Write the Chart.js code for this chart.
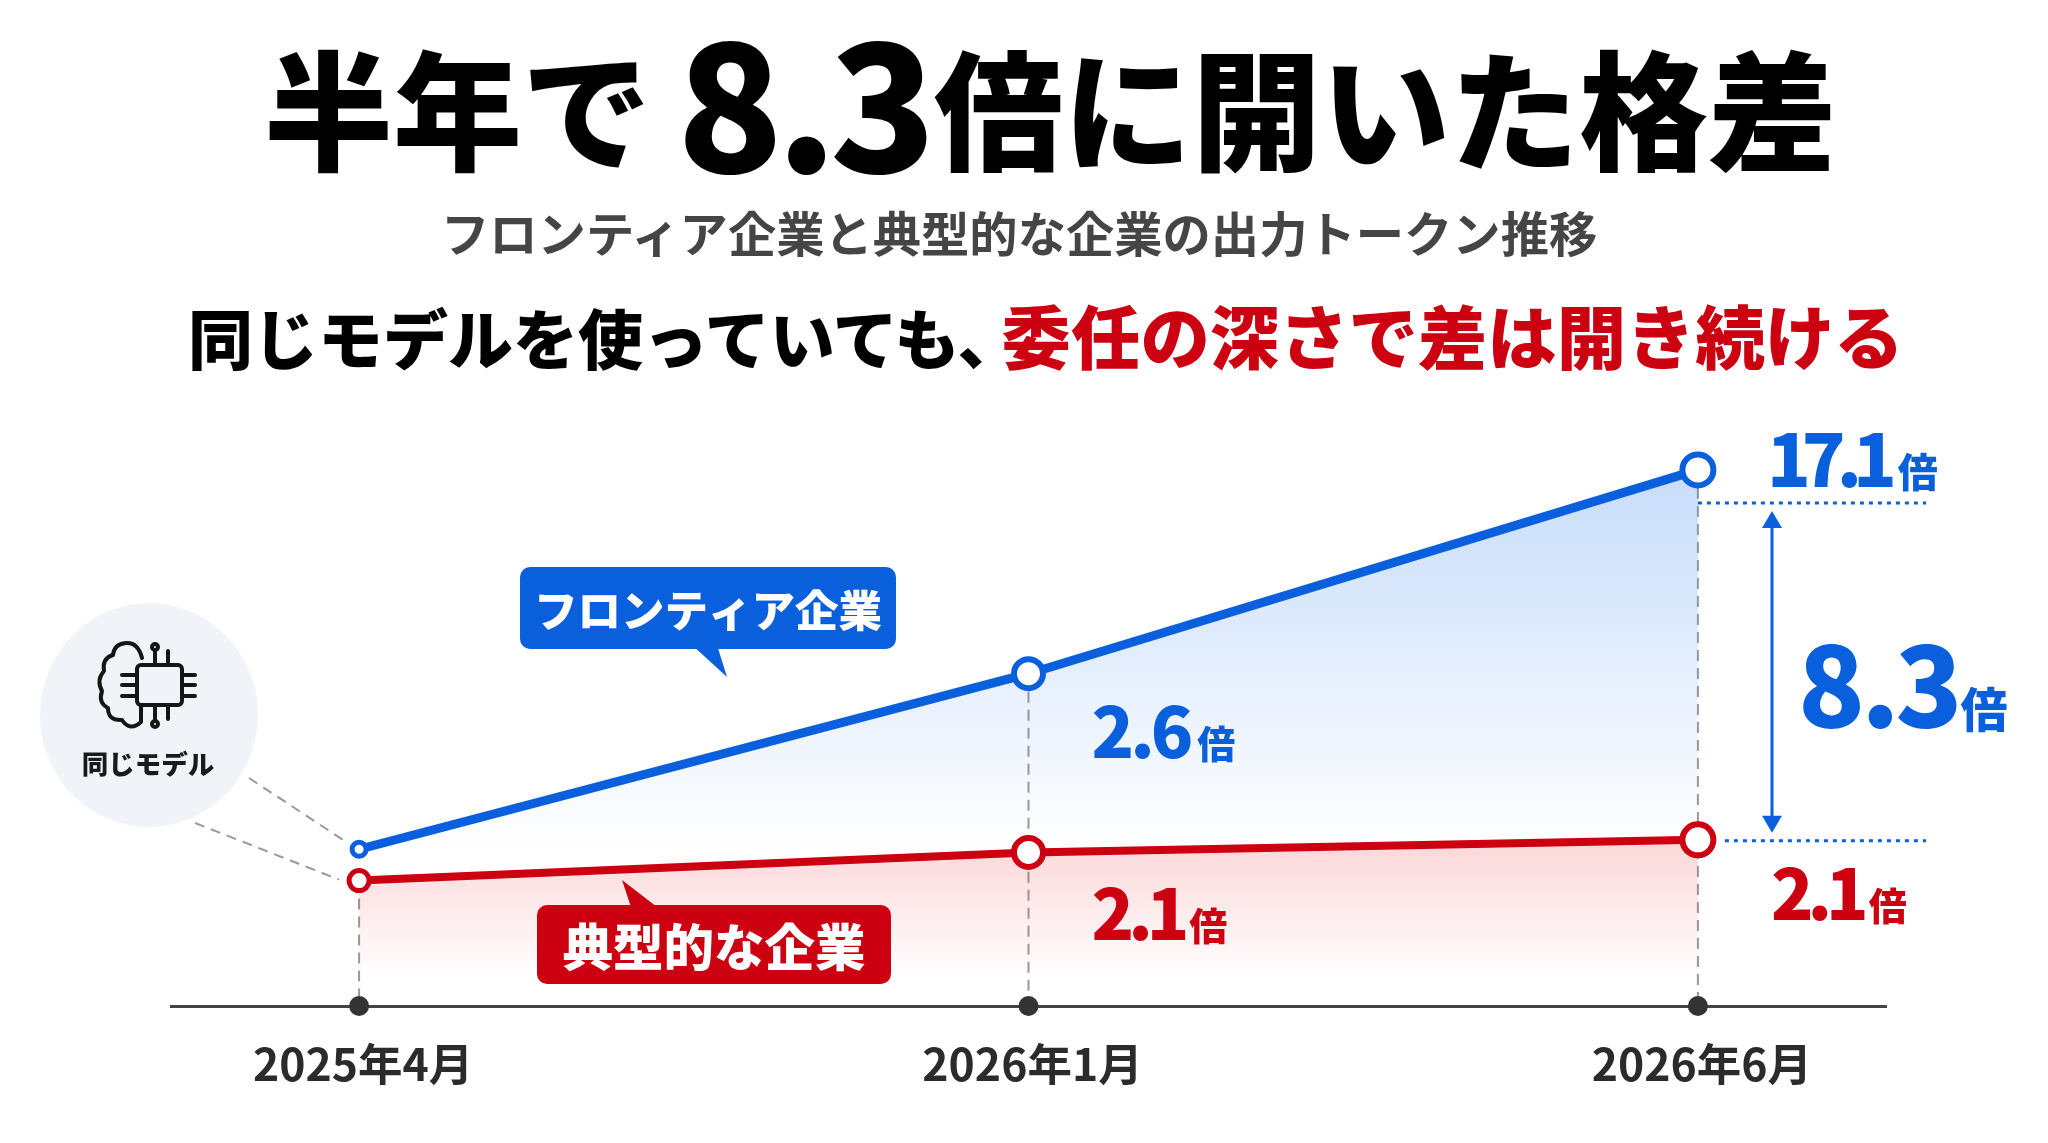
<!DOCTYPE html>
<html lang="ja">
<head>
<meta charset="utf-8">
<title>半年で8.3倍に開いた格差</title>
<script src="https://cdn.jsdelivr.net/npm/chart.js@4/dist/chart.umd.min.js"></script>
<style>
  html, body { margin: 0; padding: 0; background: #fff; }
  body { width: 2048px; height: 1143px; position: relative; overflow: hidden; font-family: "Noto Sans CJK JP", "Noto Sans", sans-serif; }
  canvas { position: absolute; left: 0; top: 0; }
  .head { position: absolute; white-space: nowrap; line-height: 1; }
  #title { left: 264px; top: 40px; font-size: 129px; font-weight: 900; color: #000; }
  #title b { position: relative; top: 12px; font-size: 174px; line-height: 0; font-weight: 900; margin: 0 5px 0 26px; letter-spacing: -7px; }
  #subtitle { left: 441px; top: 207px; font-size: 48.3px; font-weight: 700; color: #454545; }
  #lead { left: 188px; top: 298px; font-size: 65px; line-height: 72px; font-weight: 900; color: #000; }
  #lead span { color: #cc0011; font-size: 69.4px; margin-left: -21px; }
</style>
</head>
<body>
<div class="head" id="title">半年で<b>8.3</b>倍に開いた格差</div>
<div class="head" id="subtitle">フロンティア企業と典型的な企業の出力トークン推移</div>
<div class="head" id="lead">同じモデルを使っていても、<span>委任の深さで差は開き続ける</span></div>
<canvas id="gapChart" width="2048" height="1143"></canvas>
<script>
const months = ['2025年4月', '2026年1月', '2026年6月'];

// heights of the lines as drawn in the picture (the drawing is not to scale with its labels)
const frontierValues = [5.0, 10.6, 17.1];
const typicalValues = [4.0, 4.9, 5.3];
const axisValues = [0, 0, 0];

const frontierLabels = ['', '2.6', '17.1'];
const typicalLabels = ['', '2.1', '2.1'];
const gapLabel = '8.3';
const unit = '倍';

const BLUE = '#0a5fdc';
const RED = '#cc0011';
const FONT = '"Noto Sans CJK JP", "Noto Sans", sans-serif';

const toPoints = (values) => values.map((v, i) => ({ x: i, y: v }));

function frontierFill(context) {
  const { chart } = context;
  if (!chart.chartArea) return 'transparent';
  const y = chart.scales.y;
  const g = chart.ctx.createLinearGradient(0, y.getPixelForValue(17.1), 0, y.getPixelForValue(5));
  g.addColorStop(0, 'rgba(70,140,240,0.30)');
  g.addColorStop(1, 'rgba(70,140,240,0.0)');
  return g;
}

function typicalFill(context) {
  const { chart } = context;
  if (!chart.chartArea) return 'transparent';
  const y = chart.scales.y;
  const g = chart.ctx.createLinearGradient(0, y.getPixelForValue(5.3), 0, y.getPixelForValue(0.9));
  g.addColorStop(0, 'rgba(240,50,60,0.20)');
  g.addColorStop(1, 'rgba(240,50,60,0.0)');
  return g;
}

function dashed(ctx, x1, y1, x2, y2, color, width, dash) {
  ctx.save();
  ctx.strokeStyle = color;
  ctx.lineWidth = width;
  ctx.setLineDash(dash);
  ctx.beginPath();
  ctx.moveTo(x1, y1);
  ctx.lineTo(x2, y2);
  ctx.stroke();
  ctx.restore();
}

function bubble(ctx, x, y, w, h, tail, color, text, size) {
  ctx.save();
  ctx.fillStyle = color;
  ctx.beginPath();
  ctx.roundRect(x, y, w, h, 10);
  ctx.fill();
  ctx.beginPath();
  ctx.moveTo(tail[0], tail[1]);
  ctx.lineTo(tail[2], tail[3]);
  ctx.lineTo(tail[4], tail[5]);
  ctx.closePath();
  ctx.fill();
  ctx.fillStyle = '#fff';
  ctx.font = `900 ${size}px ${FONT}`;
  ctx.textAlign = 'center';
  ctx.textBaseline = 'middle';
  ctx.fillText(text, x + w / 2, y + h / 2 + 2);
  ctx.restore();
}

function multiple(ctx, text, x, baseline, size, unitSize, color, spacing, gap) {
  ctx.save();
  ctx.fillStyle = color;
  ctx.textBaseline = 'alphabetic';
  ctx.textAlign = 'left';
  ctx.font = `900 ${size}px ${FONT}`;
  ctx.letterSpacing = `${spacing}px`;
  ctx.fillText(text, x, baseline);
  const w = ctx.measureText(text).width;
  ctx.letterSpacing = '0px';
  ctx.font = `900 ${unitSize}px ${FONT}`;
  ctx.fillText(unit, x + w + gap, baseline);
  ctx.restore();
}

function modelBadge(ctx) {
  ctx.save();
  ctx.fillStyle = '#f0f3f8';
  ctx.beginPath();
  ctx.ellipse(149, 715, 109, 112, 0, 0, Math.PI * 2);
  ctx.fill();

  // brain outline
  ctx.strokeStyle = '#151515';
  ctx.lineWidth = 4;
  ctx.lineCap = 'round';
  ctx.lineJoin = 'round';
  ctx.beginPath();
  ctx.moveTo(142, 658);
  ctx.quadraticCurveTo(138, 642, 126, 643);
  ctx.quadraticCurveTo(114, 644, 113, 655);
  ctx.quadraticCurveTo(102, 658, 104, 671);
  ctx.quadraticCurveTo(96, 680, 102, 691);
  ctx.quadraticCurveTo(98, 703, 108, 708);
  ctx.quadraticCurveTo(108, 721, 122, 720);
  ctx.quadraticCurveTo(130, 732, 141, 722);
  ctx.lineTo(141, 706);
  ctx.stroke();

  // chip
  ctx.beginPath();
  ctx.roundRect(137, 665, 45, 40, 4);
  ctx.stroke();
  const rows = [675, 685, 696];
  rows.forEach((py) => {
    ctx.beginPath();
    ctx.moveTo(122, py); ctx.lineTo(137, py);
    ctx.moveTo(182, py); ctx.lineTo(195, py);
    ctx.stroke();
  });
  [[155, 650, 665], [168, 651, 665], [155, 705, 721], [168, 705, 719]].forEach(([px, a, b]) => {
    ctx.beginPath();
    ctx.moveTo(px, a); ctx.lineTo(px, b);
    ctx.stroke();
  });
  [[155, 647], [155, 724]].forEach(([px, py]) => {
    ctx.beginPath();
    ctx.arc(px, py, 3, 0, Math.PI * 2);
    ctx.stroke();
  });

  ctx.fillStyle = '#1a1a1a';
  ctx.font = `900 26.5px ${FONT}`;
  ctx.textAlign = 'center';
  ctx.textBaseline = 'middle';
  ctx.fillText('同じモデル', 148, 764);
  ctx.restore();
}

const guideLines = {
  id: 'guideLines',
  beforeDatasetsDraw(chart) {
    const { ctx, scales: { x, y } } = chart;
    const base = y.getPixelForValue(0);
    // drop lines from the upper series to the axis
    dashed(ctx, x.getPixelForValue(0), y.getPixelForValue(typicalValues[0]), x.getPixelForValue(0), base, '#999', 2, [11, 7]);
    dashed(ctx, x.getPixelForValue(1), y.getPixelForValue(frontierValues[1]), x.getPixelForValue(1), base, '#999', 2, [11, 7]);
    dashed(ctx, x.getPixelForValue(2), y.getPixelForValue(frontierValues[2]), x.getPixelForValue(2), base, '#999', 2, [11, 7]);
    // same model badge to both starting points
    const x0 = x.getPixelForValue(0);
    dashed(ctx, 249, 778, x0 - 14, y.getPixelForValue(frontierValues[0]) - 8, '#999', 2, [10, 7]);
    dashed(ctx, 195, 823, x0 - 20, y.getPixelForValue(typicalValues[0]) - 1, '#999', 2, [10, 7]);
  }
};

const annotations = {
  id: 'annotations',
  afterDraw(chart) {
    const { ctx, scales: { x, y } } = chart;
    const xEnd = x.getPixelForValue(2);
    const xMid = x.getPixelForValue(1);
    const topY = y.getPixelForValue(frontierValues[2]) + 33;
    const lowY = y.getPixelForValue(typicalValues[2]) + 1;

    modelBadge(ctx);
    bubble(ctx, 520, 567, 376, 82, [692, 645, 717, 645, 727, 677], BLUE, 'フロンティア企業', 43.5);
    bubble(ctx, 537, 905, 354, 79, [631, 907, 657, 907, 622, 880], RED, '典型的な企業', 50.5);

    // gap between the series at the last month
    dashed(ctx, xEnd, topY, 1926, topY, BLUE, 3, [4, 5]);
    dashed(ctx, xEnd + 27, lowY, 1926, lowY, BLUE, 3, [4, 5]);
    ctx.save();
    ctx.strokeStyle = BLUE;
    ctx.fillStyle = BLUE;
    ctx.lineWidth = 3;
    ctx.beginPath();
    ctx.moveTo(1772, topY + 20);
    ctx.lineTo(1772, lowY - 20);
    ctx.stroke();
    [[topY + 8, 1], [lowY - 8, -1]].forEach(([tip, dir]) => {
      ctx.beginPath();
      ctx.moveTo(1772, tip);
      ctx.lineTo(1762, tip + dir * 17);
      ctx.lineTo(1782, tip + dir * 17);
      ctx.closePath();
      ctx.fill();
    });
    ctx.restore();

    multiple(ctx, frontierLabels[2], 1767, 487, 72, 40, BLUE, -9, 10);
    multiple(ctx, gapLabel, 1798, 727, 110, 47, BLUE, -4, 2);
    multiple(ctx, frontierLabels[1], xMid + 63, 758, 70, 38, BLUE, -4, 8);
    multiple(ctx, typicalLabels[1], xMid + 63, 940, 70, 38, RED, -6, 6);
    multiple(ctx, typicalLabels[2], xEnd + 73, 920, 70, 38, RED, -6, 6);
  }
};

new Chart(document.getElementById('gapChart'), {
  type: 'line',
  data: {
    datasets: [
      {
        label: 'フロンティア企業',
        data: toPoints(frontierValues),
        borderColor: BLUE,
        borderWidth: 9,
        backgroundColor: frontierFill,
        fill: { target: 1 },
        tension: 0,
        pointRadius: [7, 14.5, 15.5],
        pointHoverRadius: [7, 14.5, 15.5],
        pointBorderWidth: [5, 6, 6],
        pointBackgroundColor: '#fff',
        pointBorderColor: BLUE,
        order: 2
      },
      {
        label: '典型的な企業',
        data: toPoints(typicalValues),
        borderColor: RED,
        borderWidth: 8,
        backgroundColor: typicalFill,
        fill: 'origin',
        tension: 0,
        pointRadius: [10, 14.5, 15.5],
        pointHoverRadius: [10, 14.5, 15.5],
        pointBorderWidth: [5, 6, 6],
        pointBackgroundColor: '#fff',
        pointBorderColor: RED,
        order: 1
      },
      {
        label: 'axis',
        data: toPoints(axisValues),
        showLine: false,
        fill: false,
        pointRadius: 10,
        pointBackgroundColor: '#333',
        pointBorderWidth: 0,
        order: 0
      }
    ]
  },
  options: {
    responsive: false,
    devicePixelRatio: 1,
    animation: false,
    clip: false,
    events: [],
    layout: { padding: { left: 171, right: 162, top: 379, bottom: 0 } },
    plugins: { legend: { display: false }, tooltip: { enabled: false } },
    scales: {
      x: {
        type: 'linear',
        min: -0.281,
        max: 2.281,
        afterBuildTicks: (scale) => { scale.ticks = months.map((m, i) => ({ value: i })); },
        afterFit: (scale) => { scale.height = 137; },
        grid: { display: false, drawTicks: false },
        border: { display: true, color: '#444', width: 3 },
        ticks: {
          autoSkip: false,
          maxRotation: 0,
          padding: 31,
          labelOffset: 4,
          color: '#2b2b2b',
          font: { family: FONT, size: 44.5, weight: '700' },
          callback: (v) => months[v]
        }
      },
      y: { type: 'linear', min: 0, max: 20, display: false }
    }
  },
  plugins: [guideLines, annotations]
});
</script>
</body>
</html>
